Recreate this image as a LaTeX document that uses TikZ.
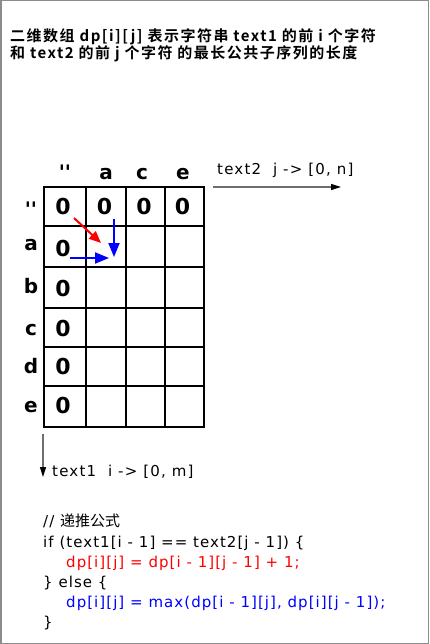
\documentclass[tikz,border=0pt]{standalone}
\usepackage{fontspec}
\usetikzlibrary{arrows.meta}
\newfontfamily\cjkb{Noto Sans CJK SC Bold}[LetterSpace=10]
\newfontfamily\cjk{Noto Sans CJK SC}
\newfontfamily\labf{DejaVu Sans}[LetterSpace=8]
\newfontfamily\labb{DejaVu Sans Bold}
\newfontfamily\codef{DejaVu Sans}[LetterSpace=7]
\definecolor{framegray}{HTML}{8C8C8C}
\definecolor{axisgray}{HTML}{6E6E6E}
\definecolor{codered}{HTML}{FF0000}
\definecolor{codeblue}{HTML}{0000FF}
\begin{document}
\begin{tikzpicture}[x=1pt,y=-1pt,
  titletext/.style={anchor=base west,inner sep=0pt,font=\cjkb\fontsize{15}{17}\selectfont},
  headtext/.style={anchor=base,inner sep=0pt,font=\labb\fontsize{20}{22}\selectfont},
  zerotext/.style={anchor=center,inner sep=0pt,font=\labb\fontsize{22}{24}\selectfont},
  axistext/.style={anchor=base west,inner sep=0pt,font=\labf\fontsize{15}{17}\selectfont},
  codetext/.style={anchor=base west,inner sep=0pt,font=\codef\fontsize{15}{17}\selectfont},
  gridline/.style={line width=2pt,black},
  axisarrow/.style={line width=1.3pt,axisgray,-{Triangle[length=10pt,width=6pt,black]}},
  redarrow/.style={line width=2pt,codered,-{Triangle[length=12pt,width=10pt]}},
  bluearrow/.style={line width=2pt,codeblue,-{Triangle[length=14pt,width=11pt]}}
]
\useasboundingbox (0,0) rectangle (429,644);
\draw[framegray,line width=1.5pt] (0.75,0.75) rectangle (428.25,643.25);

% title
\node[titletext] (t1) at (10,42) {二维数组 dp[i][j] 表示字符串 text1 的前 i 个字符};
\node[titletext] (t2) at (10,59) {和 text2 的前 j 个字符 的最长公共子序列的长度};

% grid
\foreach \x in {44,86,126,165,204} \draw[gridline] (\x,187) -- (\x,427);
\foreach \y in {187,226,267,308,347,386,427} \draw[gridline] (43,\y) -- (205,\y);

% column headers
\node[headtext] (h0) at (65,180) {''};
\node[headtext] (h1) at (106,180) {a};
\node[headtext] (h2) at (142,180) {c};
\node[headtext] (h3) at (183,180) {e};

% row headers
\node[headtext] (r0) at (31,216) {''};
\node[headtext] (r1) at (31,250) {a};
\node[headtext] (r2) at (31,293) {b};
\node[headtext] (r3) at (31,335) {c};
\node[headtext] (r4) at (31,373) {d};
\node[headtext] (r5) at (31,412) {e};

% zeros
\node[zerotext] (z00) at (63,206.5) {0};
\node[zerotext] (z01) at (104.5,206.5) {0};
\node[zerotext] (z02) at (144,206.5) {0};
\node[zerotext] (z03) at (182.5,206.5) {0};
\node[zerotext] (z10) at (63,248.5) {0};
\node[zerotext] (z20) at (63,288.5) {0};
\node[zerotext] (z30) at (63,328.5) {0};
\node[zerotext] (z40) at (63,366.5) {0};
\node[zerotext] (z50) at (63,405) {0};

% dependency arrows
\coordinate (ra) at (74,218);
\coordinate (rb) at (101,243);
\coordinate (va) at (114,219);
\coordinate (vb) at (114,257);
\coordinate (ha) at (70,258);
\coordinate (hb) at (109,258);
\draw[redarrow] (ra) -- (rb);
\draw[bluearrow] (va) -- (vb);
\draw[bluearrow] (ha) -- (hb);

% axes
\coordinate (xa) at (213,187);
\coordinate (xb) at (341,187);
\draw[axisarrow] (xa) -- (xb);
\node[axistext] (xl) at (217,175) {text2\ \ j -> [0, n]};
\coordinate (ya) at (43,434);
\coordinate (yb) at (43,477);
\draw[axisarrow] (ya) -- (yb);
\node[axistext] (yl) at (52,476) {text1\ \ i -> [0, m]};

% code
\node[codetext] (c1) at (43,526) {// {\cjk 递推公式}};
\node[codetext] (c2) at (43,547) {if (text1[i - 1] == text2[j - 1]) \{};
\node[codetext,text=codered] (c3) at (66,567) {dp[i][j] = dp[i - 1][j - 1] + 1;};
\node[codetext] (c4) at (43,587) {\} else \{};
\node[codetext,text=codeblue] (c5) at (66,607) {dp[i][j] = max(dp[i - 1][j], dp[i][j - 1]);};
\node[codetext] (c6) at (43,627) {\}};
\end{tikzpicture}
\end{document}
